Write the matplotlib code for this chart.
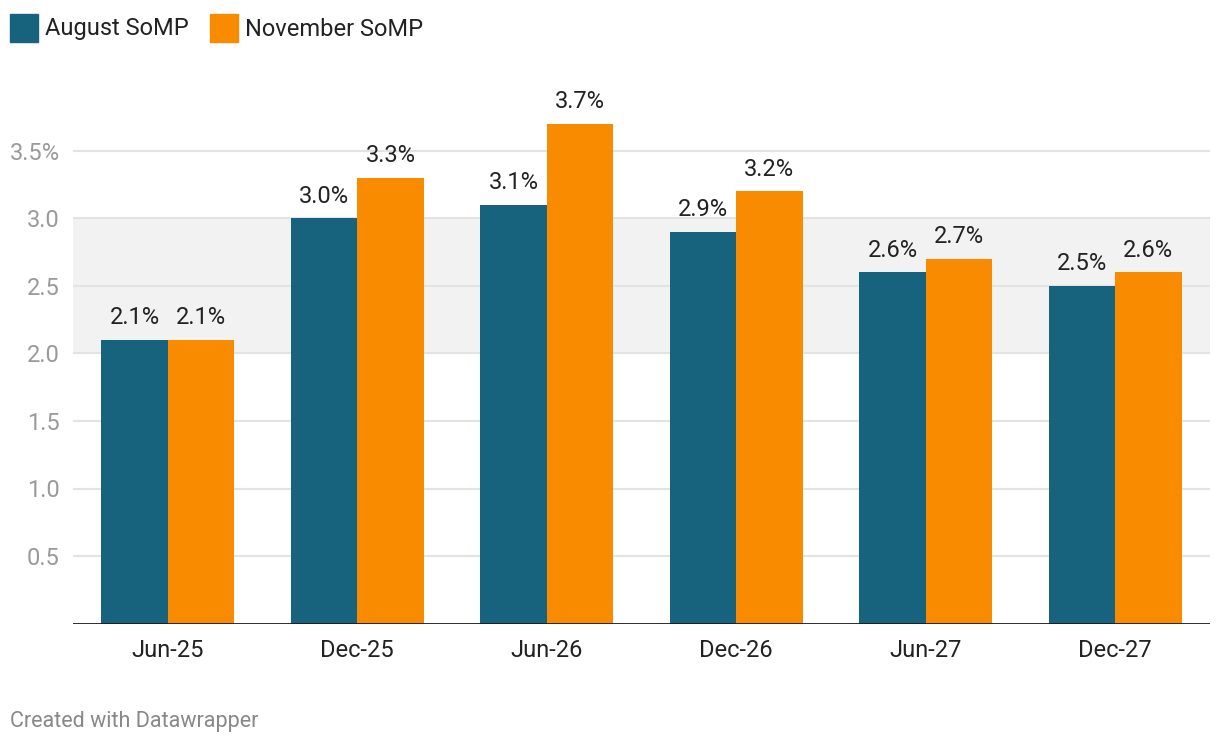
import matplotlib.pyplot as plt
from matplotlib.patches import Rectangle
import numpy as np

# data
periods = ['Jun-25', 'Dec-25', 'Jun-26', 'Dec-26', 'Jun-27', 'Dec-27']
august = [2.1, 3.0, 3.1, 2.9, 2.6, 2.5]
november = [2.1, 3.3, 3.7, 3.2, 2.7, 2.6]
yticks = [0.5, 1.0, 1.5, 2.0, 2.5, 3.0, 3.5]
ytick_labels = ['0.5', '1.0', '1.5', '2.0', '2.5', '3.0', '3.5%']
series_names = ['August SoMP', 'November SoMP']

teal = '#17627c'
orange = '#f98b00'

plt.rcParams['font.family'] = ['Roboto', 'DejaVu Sans']

W, H = 1220, 746
fig = plt.figure(figsize=(12.2, 7.46), dpi=100)
ax = fig.add_axes([73 / W, 1 - 623.5 / H, (1210 - 73) / W, 540 / H])

x = np.arange(len(periods))
w = 0.35
ax.set_xlim(-0.5, len(periods) - 0.5)
ax.set_ylim(0, 4.0)

# shaded band and grid
ax.axhspan(2.0, 3.0, color='#f2f2f2', zorder=0, lw=0)
for t in yticks:
    ax.axhline(t, color='#e3e3e3', lw=1.5, zorder=1)

ax.bar(x - w / 2, august, w, color=teal, zorder=2)
ax.bar(x + w / 2, november, w, color=orange, zorder=2)

for xi, a, n in zip(x, august, november):
    ax.annotate(f'{a:.1f}%', (xi - w / 2, a), xytext=(0, 11.5), textcoords='offset points',
                ha='center', va='baseline', fontsize=17, color='#222222')
    ax.annotate(f'{n:.1f}%', (xi + w / 2, n), xytext=(0, 11.5), textcoords='offset points',
                ha='center', va='baseline', fontsize=17, color='#222222')

ax.axhline(0, color='#1a1a1a', lw=2, zorder=3)

ax.set_xticks(x)
ax.set_xticklabels(periods, fontsize=17, color='#222222')
ax.set_yticks(yticks)
ax.set_yticklabels(ytick_labels, fontsize=17, color='#9a9a9a')
ax.tick_params(axis='x', length=0, pad=11)
ax.tick_params(axis='y', length=0, pad=9.5)
for s in ax.spines.values():
    s.set_visible(False)

# legend drawn by hand
for (sx, tx), name, col in zip([(10, 45), (210, 245)], series_names, [teal, orange]):
    fig.patches.append(Rectangle((sx / W, 1 - 42 / H), 28 / W, 28 / H, color=col,
                                 transform=fig.transFigure, figure=fig))
    fig.text(tx / W, 1 - 29 / H, name, fontsize=17, color='#222222', ha='left', va='center')

fig.text(10 / W, 1 - 722 / H, 'Created with Datawrapper', fontsize=15.5, color='#888888',
         ha='left', va='center')

fig.savefig('out.png', dpi=100)
